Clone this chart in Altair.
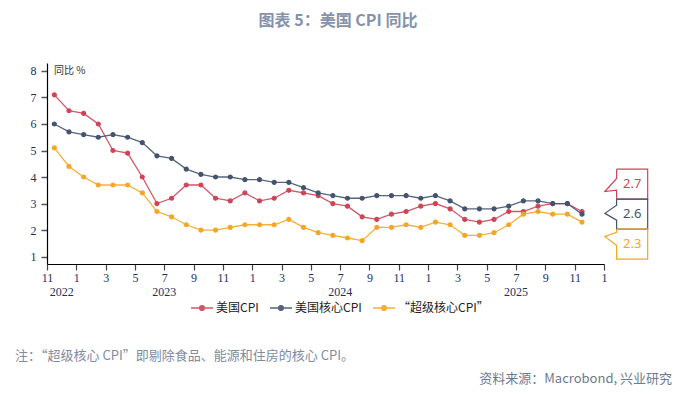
import altair as alt
import pandas as pd

# ---------------- data ----------------
series_names = ["美国CPI", "美国核心CPI", "“超级核心CPI”"]
series_colors = ["#CF4457", "#44536E", "#F5A623"]
month_idx = list(range(37))  # 0 = 2022-11 ... 36 = 2025-11
cpi = [7.1, 6.5, 6.4, 6.0, 5.0, 4.9, 4.0, 3.0, 3.2, 3.7, 3.7, 3.2, 3.1, 3.4, 3.1, 3.2,
       3.5, 3.4, 3.3, 3.0, 2.9, 2.5, 2.4, 2.6, 2.7, 2.9, 3.0, 2.8, 2.4, 2.3, 2.4, 2.7,
       2.7, 2.9, 3.0, 3.0, 2.7]
core = [6.0, 5.7, 5.6, 5.5, 5.6, 5.5, 5.3, 4.8, 4.7, 4.3, 4.1, 4.0, 4.0, 3.9, 3.9, 3.8,
        3.8, 3.6, 3.4, 3.3, 3.2, 3.2, 3.3, 3.3, 3.3, 3.2, 3.3, 3.1, 2.8, 2.8, 2.8, 2.9,
        3.1, 3.1, 3.0, 3.0, 2.6]
supercore = [5.1, 4.4, 4.0, 3.7, 3.7, 3.7, 3.4, 2.7, 2.5, 2.2, 2.0, 2.0, 2.1, 2.2, 2.2, 2.2,
             2.4, 2.1, 1.9, 1.8, 1.7, 1.6, 2.1, 2.1, 2.2, 2.1, 2.3, 2.2, 1.8, 1.8, 1.9, 2.2,
             2.6, 2.7, 2.6, 2.6, 2.3]
year_labels = ["2022", "2023", "2024", "2025"]
year_pos = [1, 8, 20, 32]
x_ticks = list(range(0, 39, 2))
y_ticks = list(range(1, 9))

title_text = "图表 5：美国 CPI 同比"
unit_text = "同比 %"
note_text = "注：“超级核心 CPI”即剔除食品、能源和住房的核心 CPI。"
source_text = "资料来源：Macrobond, 兴业研究"

# ---------------- tables ----------------
rows = []
for name, vals in zip(series_names, [cpi, core, supercore]):
    for i, v in zip(month_idx, vals):
        rows.append({"series": name, "t": i + 0.5, "v": v})
df = pd.DataFrame(rows)

# callout balloons at the right end (stacked around the core value)
h = 30 / 26.52
x0, x1, xt = 38.86, 40.98, 38.06
lasts = [cpi[-1], core[-1], supercore[-1]]
centers = [core[-1] + h, core[-1], core[-1] - h]
pointers = [(0.215, -0.28, -0.226), (0.34, 0.03, -0.226), (0.45, 0.29, -0.05)]
crow = []
lrow = []
for name, c, last, (pt, tip, pb) in zip(series_names, centers, lasts, pointers):
    top, bot = c + h / 2, c - h / 2
    pts = [(x0, top), (x1, top), (x1, bot), (x0, bot), (x0, c + pb), (xt, c + tip), (x0, c + pt), (x0, top)]
    for k, (xx, yy) in enumerate(pts):
        crow.append({"series": name, "t": xx, "v": yy, "o": k})
    lrow.append({"series": name, "t": (x0 + x1) / 2, "v": c, "label": f"{last:.1f}"})
cdf = pd.DataFrame(crow)
ldf = pd.DataFrame(lrow)
ydf = pd.DataFrame({"t": year_pos, "year": year_labels})

# ---------------- chart ----------------
navy = "#1F2F5C"
color_scale = alt.Scale(domain=series_names, range=series_colors)
xs = alt.Scale(domain=[0, 38], nice=False, zero=False)
ys = alt.Scale(domain=[0.72, 8.3], nice=False, zero=False)

sym = "M-1,0L1,0M0.22,0A0.22,0.22,0,1,1,-0.22,0A0.22,0.22,0,1,1,0.22,0"
legend = alt.Legend(title=None, orient="none", legendX=143, legendY=233,
                    direction="horizontal", symbolType=sym, symbolSize=484,
                    symbolStrokeWidth=1.3, labelFont="Noto Sans CJK SC",
                    labelFontSize=12, labelColor="#222222", labelOffset=2,
                    columnPadding=8)

color_enc = alt.Color("series:N", scale=color_scale, legend=legend)

x_axis = alt.Axis(values=x_ticks, tickCount=60, labelExpr="((datum.value + 10) % 12) + 1",
                  title=None, grid=False, tickSize=6, labelPadding=2,
                  labelFont="Liberation Serif", labelFontSize=12, labelColor=navy,
                  domainColor="#000000", domainWidth=1.2, tickColor="#444444",
                  tickWidth=1.2, labelFlush=False, labelOverlap=False)
y_axis = alt.Axis(values=y_ticks, tickCount=60, format="d", title=None, grid=False,
                  tickSize=6, labelPadding=5,
                  labelFont="Liberation Serif", labelFontSize=12, labelColor=navy,
                  domainColor="#000000", domainWidth=1.2, tickColor="#555555",
                  tickWidth=1.5, labelOverlap=False)

lines = alt.Chart(df).mark_line(strokeWidth=1.3, opacity=0.9).encode(
    x=alt.X("t:Q", scale=xs, axis=x_axis),
    y=alt.Y("v:Q", scale=ys, axis=y_axis),
    color=color_enc,
)
points = alt.Chart(df).mark_circle(size=16, opacity=1, strokeWidth=1.2).encode(
    x="t:Q", y="v:Q",
    color=color_enc,
    stroke=alt.Stroke("series:N", scale=color_scale, legend=legend),
)
balloons = alt.Chart(cdf).mark_line(strokeWidth=1.2).encode(
    x="t:Q", y="v:Q", order="o:Q",
    color=color_enc,
)
balloon_text = alt.Chart(ldf).mark_text(font="Noto Sans", fontSize=13).encode(
    x="t:Q", y="v:Q", text="label:N",
    color=color_enc,
)
years = alt.Chart(ydf).mark_text(font="Liberation Serif", fontSize=12, color=navy,
                                 baseline="middle").encode(
    x="t:Q", y=alt.value(229), text="year:N")


def label(text, x, y, **kw):
    return alt.Chart(pd.DataFrame({"s": [text]})).mark_text(**kw).encode(
        x=alt.value(x), y=alt.value(y), text="s:N")


title = label(title_text, 291, -42, font="Noto Sans CJK SC", fontSize=16, fontWeight="bold",
              color="#8592AB", align="center", baseline="middle")
unit = label(unit_text, 7, 8, font="Noto Sans CJK SC", fontSize=10, color="#333333",
             align="left", baseline="middle")
note = label(note_text, -32, 293, font="Noto Sans CJK SC", fontSize=13, color="#7F8BA1",
             align="left", baseline="middle")
source = label(source_text, 625, 316, font="Noto Sans CJK SC", fontSize=13, color="#6E7A90",
               align="right", baseline="middle")

chart = alt.layer(lines, points, balloons, balloon_text, years, title, unit, note, source).properties(
    width=557, height=201,
    padding={"left": 39, "top": 55, "right": 70, "bottom": 122},
    autosize=alt.AutoSizeParams(type="none"),
    background="#FFFFFF",
).configure_view(strokeWidth=0).configure_axis(labelOverlap=False)

chart.save("out.html", embed_options={"renderer": "svg", "actions": False})
